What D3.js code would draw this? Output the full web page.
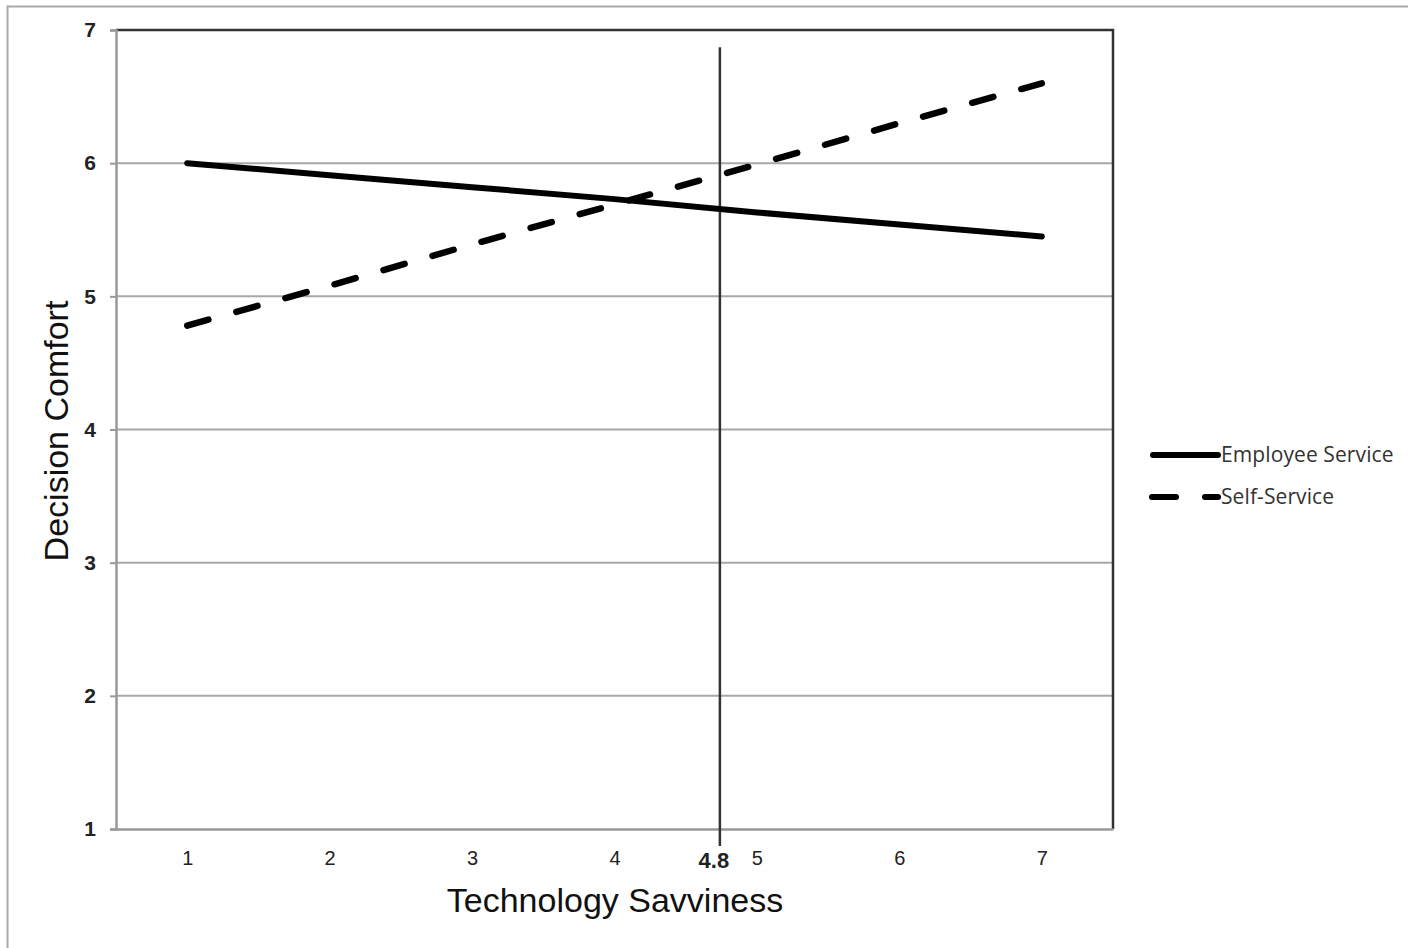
<!DOCTYPE html>
<html>
<head>
<meta charset="utf-8">
<script src="https://cdn.jsdelivr.net/npm/d3@7"></script>
<style>
  html, body { margin: 0; padding: 0; background: #fff; }
  svg { display: block; }
</style>
</head>
<body>
<svg id="chart" width="1408" height="948"></svg>
<script>
const xValues = [1, 2, 3, 4, 5, 6, 7];
const yTicks = [1, 2, 3, 4, 5, 6, 7];
const employeeService = [6.00, 5.91, 5.82, 5.73, 5.63, 5.54, 5.45];
const selfService = [4.78, 5.08, 5.39, 5.69, 5.99, 6.30, 6.60];
const seriesNames = ["Employee Service", "Self-Service"];
const markerPos = 4.74;
const markerLabel = "4.8";
const xTitle = "Technology Savviness";
const yTitle = "Decision Comfort";

(function () {
const svg = d3.select("#chart");
const pL = 116, pR = 1113, pT = 30, pB = 829;

// outer border
svg.append("rect").attr("x", 7.5).attr("y", 6.5).attr("width", 1420).attr("height", 960)
  .attr("fill", "none").attr("stroke", "#aaa").attr("stroke-width", 2);

const x = d3.scaleLinear().domain([0.5, 7.5]).range([pL, pR]);
const y = d3.scaleLinear().domain([1, 7]).range([pB, pT]);

// gridlines
svg.append("g").selectAll("line").data(yTicks.filter(d => d > 1 && d < 7)).join("line")
  .attr("x1", pL).attr("x2", pR).attr("y1", d => y(d)).attr("y2", d => y(d))
  .attr("stroke", "#a8a8a8").attr("stroke-width", 2);

// frame top & right (dark)
svg.append("path")
  .attr("d", `M${pL},${pT}H${pR}V${pB}`)
  .attr("fill", "none").attr("stroke", "#333").attr("stroke-width", 2.5);

// y axis
const yAxis = d3.axisLeft(y).tickValues(yTicks).tickSize(6).tickPadding(14).tickFormat(d3.format("d"));
const gy = svg.append("g").attr("transform", `translate(${pL},0)`).call(yAxis);
gy.select(".domain").attr("stroke", "#999").attr("stroke-width", 2.5);
gy.selectAll(".tick line").attr("stroke", "#999").attr("stroke-width", 2);
gy.selectAll(".tick text").attr("font-family", "Liberation Sans, Arial, sans-serif")
  .attr("font-size", 21).attr("font-weight", "bold").attr("fill", "#222");

// x axis
const xAxis = d3.axisBottom(x).tickValues(xValues).tickSize(0).tickPadding(22).tickFormat(d3.format("d"));
const gx = svg.append("g").attr("transform", `translate(0,${pB})`).call(xAxis);
gx.select(".domain").attr("stroke", "#999").attr("stroke-width", 2.5);
gx.selectAll(".tick text").attr("font-family", "Liberation Sans, Arial, sans-serif")
  .attr("font-size", 20).attr("fill", "#222");

// marker line
svg.append("line").attr("x1", x(markerPos)).attr("x2", x(markerPos))
  .attr("y1", y(6.87)).attr("y2", pB + 17)
  .attr("stroke", "#333").attr("stroke-width", 2.5);
svg.append("text").attr("x", x(markerPos) - 6).attr("y", pB + 39)
  .attr("text-anchor", "middle").attr("font-family", "Liberation Sans, Arial, sans-serif")
  .attr("font-size", 22).attr("font-weight", "bold").attr("fill", "#222").text(markerLabel);

// series lines
const line = d3.line().x((d, i) => x(xValues[i])).y(d => y(d));
svg.append("path").datum(employeeService).attr("d", line)
  .attr("fill", "none").attr("stroke", "#000").attr("stroke-width", 6).attr("stroke-linecap", "round");
svg.append("path").datum(selfService).attr("d", line)
  .attr("fill", "none").attr("stroke", "#000").attr("stroke-width", 6.5)
  .attr("stroke-linecap", "round").attr("stroke-dasharray", "22 29");

// axis titles
svg.append("text").attr("x", 615).attr("y", 912).attr("text-anchor", "middle")
  .attr("font-family", "Liberation Sans, Arial, sans-serif").attr("font-size", 34).attr("fill", "#111")
  .text(xTitle);
svg.append("text").attr("transform", "translate(68,431) rotate(-90)").attr("text-anchor", "middle")
  .attr("font-family", "Liberation Sans, Arial, sans-serif").attr("font-size", 34).attr("fill", "#111")
  .text(yTitle);

// legend
const legend = svg.append("g");
const ly = [455, 497];
legend.append("line").attr("x1", 1153).attr("x2", 1218).attr("y1", ly[0]).attr("y2", ly[0])
  .attr("stroke", "#000").attr("stroke-width", 6).attr("stroke-linecap", "round");
legend.append("line").attr("x1", 1152).attr("x2", 1176).attr("y1", ly[1]).attr("y2", ly[1])
  .attr("stroke", "#000").attr("stroke-width", 6).attr("stroke-linecap", "round");
legend.append("line").attr("x1", 1205).attr("x2", 1218).attr("y1", ly[1]).attr("y2", ly[1])
  .attr("stroke", "#000").attr("stroke-width", 6).attr("stroke-linecap", "round");
legend.selectAll("text").data(seriesNames).join("text")
  .attr("x", 1221).attr("y", (d, i) => ly[i] + 7)
  .attr("font-family", "Open Sans, sans-serif").attr("font-size", 21).attr("fill", "#333")
  .attr("letter-spacing", 0.1)
  .text(d => d);
})();
</script>
</body>
</html>
